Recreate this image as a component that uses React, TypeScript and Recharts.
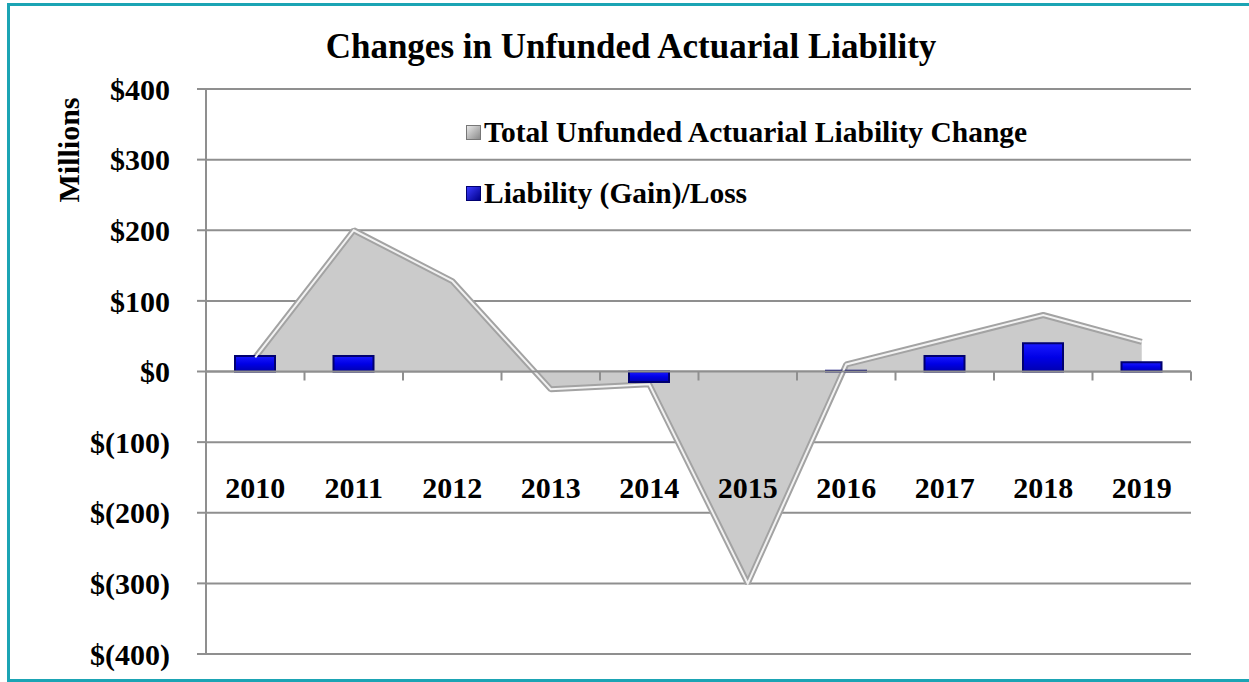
import React from 'react';
import {
  ComposedChart, Area, Bar, Line, XAxis, YAxis, CartesianGrid, ReferenceLine,
} from 'recharts';

const years = ['2010', '2011', '2012', '2013', '2014', '2015', '2016', '2017', '2018', '2019'];
const totalChange = [20, 200, 128, -25, -18, -300, 10, 45, 80, 42];
const gainLoss = [22, 22, 0, 0, -15, 0, 1, 22, 40, 13];
const yTicks = [-400, -300, -200, -100, 0, 100, 200, 300, 400];

const data = years.map((year, i) => ({
  year,
  total: totalChange[i],
  gain: gainLoss[i],
}));

const W = 1249;
const H = 682;
const PLOT_TOP = 89;
const PLOT_BOTTOM = 654;
const PLOT_LEFT = 206;
const PLOT_RIGHT = 1191;
const X_AXIS_H = 28;
const ZERO_Y = (PLOT_TOP + PLOT_BOTTOM) / 2;
const BAND = (PLOT_RIGHT - PLOT_LEFT) / years.length;
const FONT = '"Liberation Serif", "Times New Roman", serif';
const GRID = '#8f8f8f';

const fmt = (v: number) => (v < 0 ? `$(${-v})` : `$${v}`);

const CategoryTick = ({ x, payload }: { x?: number; payload?: { value: string } }) => {
  const cx = x ?? 0;
  return (
    <g>
      <line x1={cx + BAND / 2} x2={cx + BAND / 2} y1={ZERO_Y} y2={ZERO_Y + 9} stroke={GRID} strokeWidth={2} />
      <text
        x={cx}
        y={ZERO_Y + 116}
        textAnchor="middle"
        dominantBaseline="central"
        fontFamily={FONT}
        fontWeight="bold"
        fontSize={30}
        fill="#000"
      >
        {payload?.value}
      </text>
    </g>
  );
};

const legendItems = [
  { label: 'Total Unfunded Actuarial Liability Change', bg: 'linear-gradient(135deg, #e8e8e8, #8a8a8a)', border: '#777' },
  { label: 'Liability (Gain)/Loss', bg: 'linear-gradient(135deg, #3b3bff, #00008a)', border: '#000070' },
];

export default function App() {
  return (
    <div style={{ position: 'absolute', left: 0, top: 0, width: W, height: H, background: '#fff', overflow: 'hidden' }}>
      <div style={{
        position: 'absolute', left: 7, top: 3, width: W, height: H - 3,
        border: '3px solid #1ba4b4', boxSizing: 'border-box',
      }} />
      <div style={{
        position: 'absolute', left: 0, width: 1262, top: 27, textAlign: 'center',
        fontFamily: FONT, fontWeight: 'bold', fontSize: 35, color: '#000', lineHeight: '40px',
      }}>
        Changes in Unfunded Actuarial Liability
      </div>
      <div style={{ position: 'absolute', left: 0, top: 0 }}>
        <ComposedChart
          width={W}
          height={H}
          data={data}
          margin={{ top: PLOT_TOP, right: W - PLOT_RIGHT, bottom: H - PLOT_BOTTOM - X_AXIS_H, left: PLOT_LEFT - 100 }}
        >
          <defs>
            <linearGradient id="blueFill" x1="0" y1="0" x2="0" y2="1">
              <stop offset="0%" stopColor="#1a1aff" />
              <stop offset="50%" stopColor="#0000e6" />
              <stop offset="100%" stopColor="#0000b0" />
            </linearGradient>
          </defs>
          <CartesianGrid horizontal vertical={false} stroke={GRID} strokeWidth={2} />
          <XAxis
            dataKey="year"
            height={X_AXIS_H}
            axisLine={false}
            tickLine={false}
            interval={0}
            tick={<CategoryTick />}
          />
          <YAxis
            width={100}
            domain={[-400, 400]}
            ticks={yTicks}
            tickFormatter={fmt}
            tickSize={9}
            tickMargin={27}
            axisLine={{ stroke: GRID, strokeWidth: 2 }}
            tickLine={{ stroke: GRID, strokeWidth: 2 }}
            tick={{ fontFamily: FONT, fontWeight: 'bold', fontSize: 30, fill: '#000' }}
            label={{
              content: () => (
                <text
                  x={68}
                  y={150}
                  transform="rotate(-90, 68, 150)"
                  textAnchor="middle"
                  dominantBaseline="central"
                  fontFamily={FONT}
                  fontWeight="bold"
                  fontSize={30}
                  fill="#000"
                >
                  Millions
                </text>
              ),
            }}
          />
          <Area
            type="linear"
            dataKey="total"
            baseValue={0}
            fill="#cbcbcb"
            fillOpacity={1}
            stroke="#a3a3a3"
            strokeWidth={6}
            strokeLinejoin="bevel"
            isAnimationActive={false}
            legendType="none"
          />
          <Line
            type="linear"
            dataKey="total"
            stroke="#f2f2f2"
            strokeWidth={2}
            dot={false}
            activeDot={false}
            isAnimationActive={false}
            legendType="none"
          />
          <ReferenceLine y={0} stroke={GRID} strokeWidth={2} />
          <Bar
            dataKey="gain"
            barSize={40}
            fill="url(#blueFill)"
            stroke="#000070"
            strokeWidth={2}
            isAnimationActive={false}
          />
        </ComposedChart>
      </div>
      <div style={{
        position: 'absolute', left: 466, top: 115,
        fontFamily: FONT, fontWeight: 'bold', fontSize: 29.5, color: '#000',
      }}>
        {legendItems.map((it, i) => (
          <div key={it.label} style={{ display: 'flex', alignItems: 'center', height: 34, marginTop: i ? 27 : 0 }}>
            <span style={{
              display: 'inline-block', width: 13, height: 13, marginRight: 3,
              background: it.bg, border: `1px solid ${it.border}`,
            }} />
            {it.label}
          </div>
        ))}
      </div>
    </div>
  );
}
